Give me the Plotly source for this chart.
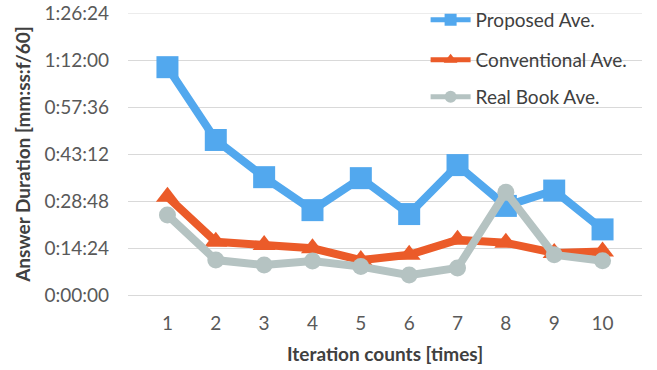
import plotly.graph_objects as go

iterations = ["1", "2", "3", "4", "5", "6", "7", "8", "9", "10"]
# Answer duration in seconds (mm:ss:f/60 -> seconds)
proposed = [69.8, 47.5, 36.1, 26.0, 35.8, 24.8, 39.8, 27.3, 32.0, 20.1]
conventional = [30.1, 16.3, 15.3, 14.3, 10.7, 12.3, 16.9, 16.0, 12.9, 13.3]
real_book = [24.5, 10.7, 9.2, 10.4, 8.7, 6.1, 8.3, 31.5, 12.3, 10.5]

y_tickvals = [0, 14.4, 28.8, 43.2, 57.6, 72.0, 86.4]
y_ticktext = ["0:00:00", "0:14:24", "0:28:48", "0:43:12", "0:57:36", "1:12:00", "1:26:24"]

series_names = ["Proposed Ave.", "Conventional Ave.", "Real Book Ave."]

FONT = "Lato"
TXT = "#595959"
FS = 19

fig = go.Figure()
fig.add_trace(go.Scatter(
    x=iterations, y=proposed, name=series_names[0], mode="lines+markers",
    line=dict(color="#52A8EE", width=8),
    marker=dict(symbol="square", size=22, color="#52A8EE"),
    legend="legend2"))
fig.add_trace(go.Scatter(
    x=iterations, y=conventional, name=series_names[1], mode="lines+markers",
    line=dict(color="#EB5B29", width=8),
    marker=dict(symbol="triangle-up", size=20, color="#EB5B29"),
    legend="legend3"))
fig.add_trace(go.Scatter(
    x=iterations, y=real_book, name=series_names[2], mode="lines+markers",
    line=dict(color="#B5C3C2", width=8),
    marker=dict(symbol="circle", size=17, color="#B5C3C2"),
    legend="legend4"))

# make sure the top gridline (at the range edge) is drawn
fig.add_hline(y=y_tickvals[-1], line=dict(color="#D9D9D9", width=1), layer="below")

leg_common = dict(bgcolor="rgba(0,0,0,0)", font=dict(family=FONT, size=FS, color="#404040"),
                  xanchor="left", yanchor="middle", itemwidth=40, itemsizing="constant",
                  borderwidth=0)

TOP = 13
PH = 295 - TOP

def ly(px):
    return 1.0 - (px - TOP) / PH

fig.update_layout(
    width=657, height=370,
    margin=dict(l=128, r=15, t=TOP, b=75, autoexpand=False),
    paper_bgcolor="white", plot_bgcolor="white",
    font=dict(family=FONT, size=FS, color=TXT),
    showlegend=True,
    legend2=dict(x=0.579, y=ly(20), **leg_common),
    legend3=dict(x=0.579, y=ly(60), **leg_common),
    legend4=dict(x=0.579, y=ly(97), **leg_common),
    xaxis=dict(
        type="category", showgrid=False, showline=False, zeroline=False,
        ticks="", tickfont=dict(family=FONT, size=FS, color=TXT),
        ticklabelstandoff=15, automargin=False,
        title=dict(text="<b>Iteration counts [times]</b>",
                   font=dict(family=FONT, size=FS, color="#404040"), standoff=14),
    ),
    yaxis=dict(
        range=[0, 86.4], tickvals=y_tickvals, ticktext=y_ticktext,
        showgrid=True, gridcolor="#D9D9D9", gridwidth=1,
        zeroline=True, zerolinecolor="#D9D9D9", zerolinewidth=1,
        showline=False, ticks="", ticklabelstandoff=18, automargin=False,
        ticklabeloverflow="allow",
        tickfont=dict(family=FONT, size=FS, color=TXT),
        title=dict(text="<b>Answer Duration [mm:ss:f/60]</b>",
                   font=dict(family=FONT, size=FS, color="#404040"), standoff=8),
    ),
)

fig.write_html("out.html")
